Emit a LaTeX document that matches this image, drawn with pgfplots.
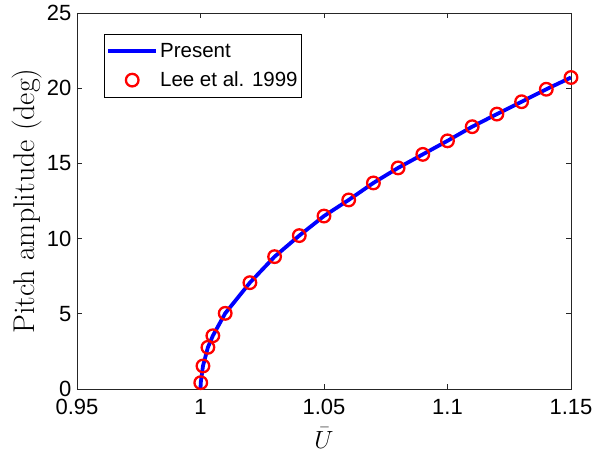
\documentclass[border=0pt]{standalone}
\usepackage{pgfplots}
\pgfplotsset{compat=1.18}
\usepackage{fontspec}
\setsansfont{Liberation Sans}
\definecolor{axgray}{rgb}{0.15,0.15,0.15}
\begin{document}
\begin{tikzpicture}
\begin{axis}[
  scale only axis,
  width=494pt, height=376pt,
  at={(0pt,0pt)}, anchor=south west,
  xmin=0.95, xmax=1.15, ymin=0, ymax=25,
  xtick={0.95,1,1.05,1.1,1.15},
  xticklabels={0.95,1,1.05,1.1,1.15},
  ytick={0,5,10,15,20,25},
  yticklabels={0,5,10,15,20,25},
  tick align=inside,
  major tick length=5pt,
  axis line style={axgray, line width=0.8pt},
  every tick/.style={axgray, line width=0.8pt},
  ticklabel style={font=\fontsize{22}{24}\sffamily\selectfont, text=black},
  xticklabel style={yshift=-9pt, inner sep=1pt},
  yticklabel style={xshift=-2pt},
  xlabel={$\bar{U}$},
  ylabel={Pitch amplitude (deg)},
  ylabel style={font=\fontsize{30}{32}\selectfont, yshift=-2pt},
  xlabel style={font=\fontsize{26}{28}\selectfont, inner sep=0pt, yshift=-12pt},
  legend style={
    at={(0.0547,0.944)}, anchor=north west,
    font=\fontsize{20.5}{23}\sffamily\selectfont,
    draw=black, line width=0.6pt,
    inner xsep=2pt, inner ysep=7pt,
    row sep=9pt,
    cells={anchor=west},
  },
  legend image code/.code={%
    \draw[#1, mark repeat=2, mark phase=2] plot coordinates {(0pt,0pt) (24pt,0pt) (48pt,0pt)};},
]
\addplot[blue, line width=3.8pt, mark=none] coordinates {
(1.0,0) (1.0001,0.42) (1.001,1.53) (1.003,2.77) (1.005,3.54) (1.01,5.03)
(1.02,7.07) (1.03,8.8) (1.04,10.2) (1.05,11.5) (1.06,12.57) (1.07,13.7)
(1.08,14.7) (1.09,15.6) (1.10,16.5) (1.11,17.44) (1.12,18.28) (1.13,19.1)
(1.14,19.93) (1.15,20.71)};
\addlegendentry{Present}
\addplot[only marks, mark=o, mark size=6.3pt, red, mark options={line width=2.3pt, draw=red}] coordinates {
(1.0001,0.42) (1.001,1.53) (1.003,2.77) (1.005,3.54) (1.01,5.03)
(1.02,7.07) (1.03,8.8) (1.04,10.2) (1.05,11.5) (1.06,12.57) (1.07,13.7)
(1.08,14.7) (1.09,15.6) (1.10,16.5) (1.11,17.44) (1.12,18.28) (1.13,19.1)
(1.14,19.93) (1.15,20.71)};
\addlegendentry{Lee et al. 1999}
\end{axis}
\pgfresetboundingbox
\useasboundingbox (-77pt,-65pt) rectangle (518pt,389pt);
\end{tikzpicture}
\end{document}
